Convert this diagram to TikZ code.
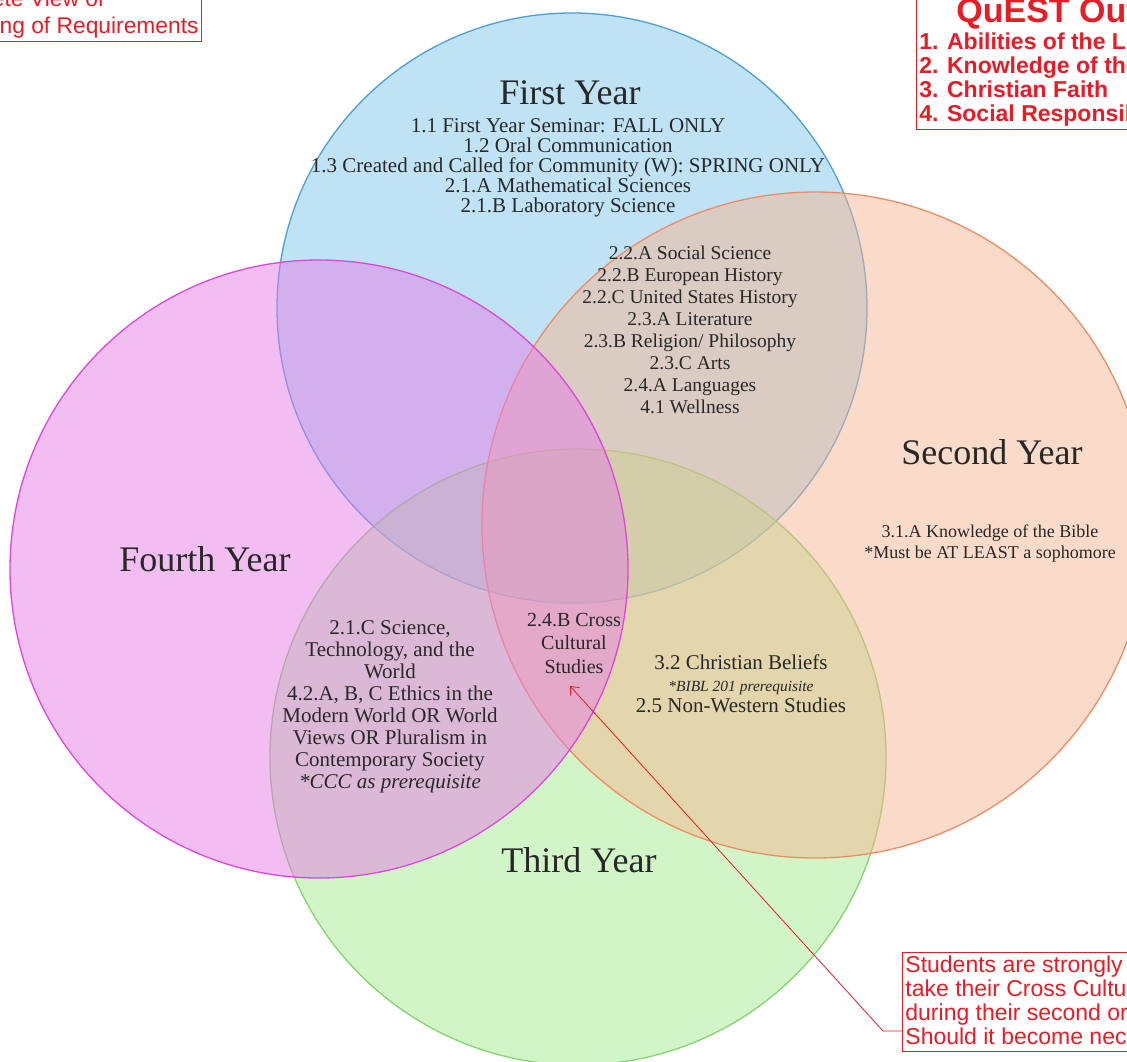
\documentclass[tikz,border=0pt]{standalone}
\usepackage{fontspec}
\setmainfont{Liberation Serif}
\newfontfamily\notefont{Liberation Sans}
\usetikzlibrary{arrows.meta}
\definecolor{firstblue}{RGB}{129, 197, 235}
\definecolor{firstedge}{RGB}{ 74, 160, 222}
\definecolor{secondorange}{RGB}{245, 181, 145}
\definecolor{secondedge}{RGB}{240, 140, 100}
\definecolor{thirdgreen}{RGB}{165, 235, 145}
\definecolor{thirdedge}{RGB}{132, 212, 112}
\definecolor{fourthpink}{RGB}{229, 125, 229}
\definecolor{fourthedge}{RGB}{222,  70, 222}
\definecolor{notered}{RGB}{232, 28, 36}
\definecolor{inktext}{RGB}{ 40, 40, 40}
\newcommand{\yearfont}{\fontsize{36}{38}\selectfont}
\newcommand{\reqfont}{\fontsize{19.5}{22}\selectfont}
\newcommand{\notetext}{\notefont\fontsize{23}{24}\selectfont}

\begin{document}
\begin{tikzpicture}[x=1pt, y=-1pt,
    year/.style={fill opacity=0.5, line width=1.3pt},
    yearname/.style={text=inktext, font=\yearfont, inner sep=0pt},
    reqs/.style={text=inktext, align=center, font=\reqfont, inner sep=0pt},
    note/.style={draw=notered, text=notered, align=left, font=\notetext, line width=0.8pt, inner sep=3pt}]
            \useasboundingbox                                   (0, 0) rectangle (1127, 1061);
            \clip                                               (0, 0) rectangle (1127, 1061);
            % Year circles
            \filldraw[year, fill=firstblue,    draw=firstedge]   (572, 308) circle (295);
            \filldraw[year, fill=thirdgreen,   draw=thirdedge]   (578, 757) circle (308);
            \filldraw[year, fill=secondorange, draw=secondedge]  (815, 525) circle (333);
            \filldraw[year, fill=fourthpink,   draw=fourthedge]  (319, 569) circle (309);
            % Year names
            \node[yearname] (firsttitle)  at (570,  93) {First Year};
            \node[yearname] (secondtitle) at (992, 452) {Second Year};
            \node[yearname] (thirdtitle)  at (579, 860) {Third Year};
            \node[yearname] (fourthtitle) at (205, 559) {Fourth Year};
            % Requirements
            \node[reqs, font=\fontsize{21}{20}\selectfont] (firstlist) at (568, 168)
                 {1.1 First Year Seminar: FALL ONLY\\ 1.2 Oral Communication\\
                  1.3 Created and Called for Community (W): SPRING ONLY\\
                  2.1.A Mathematical Sciences\\ 2.1.B Laboratory Science};
            \node[reqs] (bothlist) at (690, 330)
                 {2.2.A Social Science\\ 2.2.B European History\\ 2.2.C United States History\\
                  2.3.A Literature\\ 2.3.B Religion/ Philosophy\\ 2.3.C Arts\\
                  2.4.A Languages\\ 4.1 Wellness};
            \node[reqs, font=\fontsize{18}{21}\selectfont] (secondlist) at (990, 544)
                 {3.1.A Knowledge of the Bible\\ *Must be AT LEAST a sophomore};
            \node[reqs, font=\fontsize{21}{22}\selectfont] (fourthlist) at (390, 707)
                 {2.1.C Science,\\ Technology, and the\\ World\\ 4.2.A, B, C Ethics in the\\
                  Modern World OR World\\ Views OR Pluralism in\\ Contemporary Society\\
                  \textit{*CCC as prerequisite}};
            \node[reqs, font=\fontsize{20}{23.5}\selectfont] (crosslist) at (574, 643)
                 {2.4.B Cross\\ Cultural\\ Studies};
            \node[reqs, font=\fontsize{21}{21.5}\selectfont] (thirdlist) at (741, 684)
                 {3.2 Christian Beliefs\\ {\fontsize{15.5}{18}\selectfont\itshape *BIBL 201 prerequisite}\\
                  2.5 Non-Western Studies};
            % Notes
            \node[note, font=\notefont\fontsize{22.8}{27}\selectfont, anchor=south east] (plan) at (202, 42)
                 {A Complete View of\\ Sequencing of Requirements};
            \node[note, font=\notetext\bfseries, anchor=south west] (outcomes) at (916, 130)
                 {{\fontsize{34}{34}\selectfont\hspace*{37pt}QuEST Outcomes}\\[3pt]
                  1. Abilities of the Liberally Educated Person\\ 2. Knowledge of the World\\
                  3. Christian Faith\\ 4. Social Responsibility};
            \node[note, anchor=north west] (advice) at (902, 952)
                 {Students are strongly encouraged to\\ take their Cross Cultural Studies course\\
                  during their second or third year.\\ Should it become necessary, it may be};
            % Pointer to Cross Cultural Studies
            \coordinate (elbow) at (883, 1031);
            \coordinate (tip)   at (570,  686);
            \draw[notered, line width=0.8pt, -{Straight Barb[length=7pt, width=12pt]}]
                 (advice.west |- elbow) -- (elbow) -- (tip);
        \end{tikzpicture}
\end{document}
